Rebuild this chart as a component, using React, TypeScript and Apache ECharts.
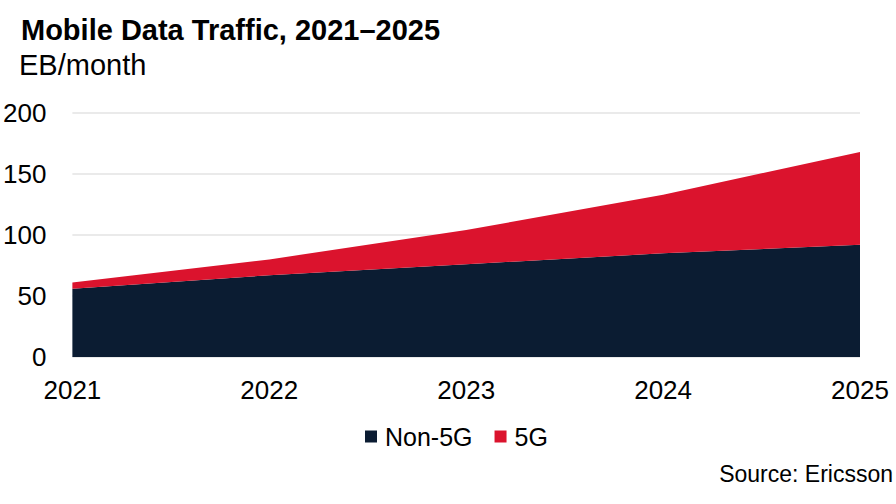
import React, { useEffect, useRef } from 'react';
import * as echarts from 'echarts';

// 数据：按年份读取（EB/月）
const years = ['2021', '2022', '2023', '2024', '2025'];
const non5G = [56, 67, 76, 85, 92];
const fiveG = [5, 13, 28, 48, 76];
const yTicks = [0, 50, 100, 150, 200];

const FONT = "'Liberation Sans', Arial, sans-serif";
const NAVY = '#0b1c32';
const RED = '#db132d';

const App: React.FC = () => {
  const chartRef = useRef<HTMLDivElement>(null);

  useEffect(() => {
    if (!chartRef.current) return;
    const chart = echarts.init(chartRef.current, undefined, { renderer: 'svg' });

    const option: echarts.EChartsOption = {
      animation: false,
      backgroundColor: '#ffffff',
      textStyle: { fontFamily: FONT, color: '#000' },
      title: [
        {
          text: 'Mobile Data Traffic, 2021–2025',
          left: 21,
          top: 15,
          padding: 0,
          textStyle: { fontFamily: FONT, fontSize: 29, fontWeight: 'bold', color: '#000' }
        },
        {
          text: 'EB/month',
          left: 19,
          top: 50,
          padding: 0,
          textStyle: { fontFamily: FONT, fontSize: 29, fontWeight: 'normal', color: '#000' }
        },
        {
          text: 'Source: Ericsson',
          right: 3,
          top: 462,
          padding: 0,
          textStyle: { fontFamily: FONT, fontSize: 23, fontWeight: 'normal', color: '#000' }
        }
      ],
      legend: {
        data: ['Non-5G', '5G'],
        left: 365,
        top: 424,
        padding: 0,
        itemWidth: 12,
        itemHeight: 12,
        itemGap: 22,
        icon: 'rect',
        textStyle: { fontFamily: FONT, fontSize: 25, color: '#000', padding: [0, 0, 0, 3] }
      },
      grid: {
        left: 70,
        right: 36,
        top: 113,
        bottom: 147,
        containLabel: false
      },
      xAxis: {
        type: 'category',
        boundaryGap: false,
        data: years,
        axisLine: { show: false },
        axisTick: { show: false },
        axisLabel: { fontFamily: FONT, fontSize: 26, color: '#000', margin: 20 }
      },
      yAxis: {
        type: 'value',
        min: yTicks[0],
        max: yTicks[yTicks.length - 1],
        interval: 50,
        axisLine: { show: false },
        axisTick: { show: false },
        axisLabel: { fontFamily: FONT, fontSize: 26, color: '#000', margin: 26 },
        splitLine: { lineStyle: { color: '#e3e3e3', width: 1.5 } }
      },
      series: [
        {
          name: 'Non-5G',
          type: 'line',
          stack: 'total',
          data: non5G,
          symbol: 'none',
          lineStyle: { width: 0 },
          itemStyle: { color: NAVY },
          areaStyle: { color: NAVY, opacity: 1 }
        },
        {
          name: '5G',
          type: 'line',
          stack: 'total',
          data: fiveG,
          symbol: 'none',
          lineStyle: { width: 0 },
          itemStyle: { color: RED },
          areaStyle: { color: RED, opacity: 1 }
        }
      ]
    };

    chart.setOption(option);

    return () => {
      chart.dispose();
    };
  }, []);

  return (
    <div
      ref={chartRef}
      style={{ position: 'absolute', left: 0, top: 0, width: '896px', height: '504px' }}
    />
  );
};

export default App;
